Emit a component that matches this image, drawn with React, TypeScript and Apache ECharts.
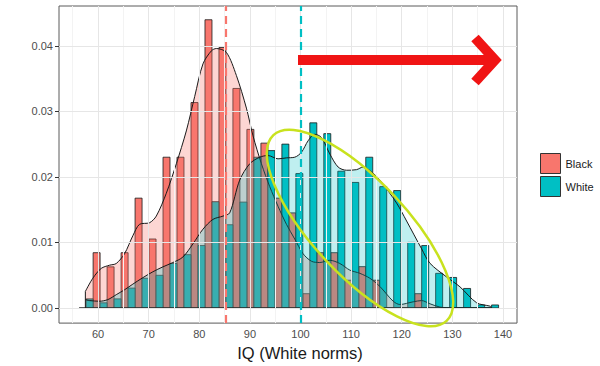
import React, { useEffect, useRef } from "react";
import * as echarts from "echarts";

// ---- data ----
const groups = ["Black", "White"];
const groupColors = ["#F8766D", "#00BFC4"];

const binCenters = [
  57.65, 60.41, 63.17, 65.94, 68.7, 71.46, 74.22, 76.98, 79.75, 82.51,
  85.27, 88.03, 90.79, 93.56, 96.32, 99.08, 101.84, 104.6, 107.37, 110.13,
  112.89, 115.65, 118.41, 121.18, 123.94, 126.7, 129.46, 132.22, 134.99, 137.75,
];
const binWidth = 2.762;

const blackBars = [
  0, 0.00843, 0.00627, 0.00843, 0.01676, 0.01052, 0.02301, 0.02301, 0.03136, 0.044,
  0.03976, 0.03351, 0.02726, 0.02516, 0.01676, 0.01451, 0.00217, 0.00843, 0.00843, 0.00423,
  0.0063, 0.00423, 0, 0, 0.00217, 0, 0, 0, 0, 0,
];
const whiteBars = [
  0.00138, 0.00078, 0.00138, 0.00303, 0.00453, 0.00498, 0.00678, 0.00813, 0.00952, 0.01622,
  0.0127, 0.01616, 0.02301, 0.02402, 0.02501, 0.02051, 0.02826, 0.02661, 0.02087, 0.01916,
  0.02301, 0.01852, 0.01792, 0.01001, 0.00952, 0.00528, 0.00465, 0.00297, 0.00045, 0.00045,
];

const blackDensX = [
  57.5, 58.97, 60.63, 62.27, 63.6, 65.24, 66.88, 68.21, 70.19, 71.51, 73.49, 75.47, 77.44,
  79.09, 80.73, 82.39, 83.38, 85.36, 87.33, 89.31, 90.62, 92.28, 93.92, 95.56, 97.22, 98.86,
  100.5, 102.17, 103.81, 105.79, 107.77, 109.75, 111.72, 113.7, 115.68, 118.31, 119.63,
  122.26, 123.92, 125.57, 127.55, 128.87, 133.0, 137.75,
];
const blackDensY = [
  0.00252, 0.00453, 0.00603, 0.00652, 0.00678, 0.00828, 0.01102, 0.01277, 0.01301, 0.01402,
  0.01751, 0.02201, 0.02702, 0.03226, 0.03726, 0.03925, 0.03961, 0.03901, 0.0355, 0.03051,
  0.02627, 0.02201, 0.01852, 0.01552, 0.01277, 0.01052, 0.00828, 0.00712, 0.00693, 0.00727,
  0.00678, 0.00577, 0.00528, 0.00453, 0.00327, 0.00102, 0.00052, 0.00093, 0.00112, 0.00063,
  0.00012, 0.00003, 0, 0,
];

const whiteDensX = [
  57.5, 58.32, 60.3, 61.94, 63.6, 65.24, 66.88, 68.86, 70.84, 72.82, 74.79, 76.77, 78.75,
  80.73, 82.71, 84.68, 86.01, 87.99, 89.97, 91.94, 93.58, 95.56, 97.22, 98.86, 100.19, 101.5,
  102.82, 104.15, 105.79, 107.43, 109.09, 111.07, 112.37, 114.04, 115.68, 118.98, 120.96,
  123.92, 125.57, 128.87, 131.5, 134.8, 137.43, 137.75,
];
const whiteDensY = [
  0.00127, 0.00112, 0.00102, 0.00127, 0.00202, 0.00277, 0.00363, 0.00462, 0.00552, 0.00627,
  0.00693, 0.00777, 0.00978, 0.01202, 0.01352, 0.01402, 0.01451, 0.01952, 0.02201, 0.02301,
  0.02327, 0.02276, 0.02291, 0.02301, 0.02376, 0.02552, 0.02651, 0.02601, 0.02351, 0.02151,
  0.02102, 0.02111, 0.02151, 0.02076, 0.01952, 0.01601, 0.01327, 0.00903, 0.00682, 0.00472,
  0.00322, 0.00078, 0.00027, 0.0001,
];

const xTicks = [60, 70, 80, 90, 100, 110, 120, 130, 140];
const xMinor = [55, 65, 75, 85, 95, 105, 115, 125, 135];
const yTicks = [0, 0.01, 0.02, 0.03, 0.04];
const yMinor = [0.005, 0.015, 0.025, 0.035, 0.045];
const groupMeans = [85.3, 100];
const xTitle = "IQ (White norms)";

const FONT = "'Liberation Sans', Arial, Helvetica, sans-serif";

export default function App() {
  const ref = useRef<HTMLDivElement>(null);

  useEffect(() => {
    if (!ref.current) return;
    const chart = echarts.init(ref.current, null, { renderer: "svg" });

    const barData = (vals: number[], side: number) =>
      binCenters.map((c, i) =>
        side === 0 ? [c - binWidth / 2, c, vals[i]] : [c, c + binWidth / 2, vals[i]]
      );

    const barSeries = (idx: number, vals: number[]) => ({
      name: groups[idx],
      type: "custom",
      z: 2,
      itemStyle: { color: groupColors[idx] },
      encode: { x: [0, 1], y: 2 },
      data: barData(vals, idx),
      renderItem: (params: any, api: any) => {
        const x0 = api.value(0);
        const x1 = api.value(1);
        const y = api.value(2);
        const p0 = api.coord([x0, y]);
        const p1 = api.coord([x1, 0]);
        return {
          type: "rect",
          shape: { x: p0[0], y: p0[1], width: p1[0] - p0[0], height: p1[1] - p0[1] },
          style: { fill: groupColors[idx], stroke: "#1a1a1a", lineWidth: 0.8 },
        };
      },
    });

    const densSeries = (xs: number[], ys: number[], fill: string, z: number) => ({
      type: "line",
      z,
      smooth: 0.3,
      showSymbol: false,
      silent: true,
      lineStyle: { color: "#1a1a1a", width: 1 },
      areaStyle: { color: fill, opacity: 1 },
      data: xs.map((x, i) => [x, ys[i]]),
    });

    const gridLine = (axis: "xAxis" | "yAxis", v: number, color: string) => ({
      [axis]: v,
      lineStyle: { color, width: 1, type: "solid" },
    });

    const option: any = {
      animation: false,
      backgroundColor: "#ffffff",
      textStyle: { fontFamily: FONT },
      grid: {
        left: 59,
        right: 83,
        top: 6,
        bottom: 37,
        show: true,
        backgroundColor: "#ffffff",
        borderColor: "#5a5a5a",
        borderWidth: 1,
      },
      legend: {
        data: groups,
        orient: "vertical",
        left: 540,
        top: 153,
        padding: 0,
        itemGap: 2,
        itemWidth: 20,
        itemHeight: 20,
        icon: "rect",
        itemStyle: { borderColor: "#333333", borderWidth: 1 },
        textStyle: { fontSize: 11, color: "#1a1a1a", fontFamily: FONT },
        selectedMode: false,
      },
      xAxis: {
        type: "value",
        min: 52.29,
        max: 142.77,
        name: xTitle,
        nameLocation: "middle",
        nameGap: 14,
        nameTextStyle: {
          fontSize: 16.5,
          color: "#1a1a1a",
          fontFamily: FONT,
          padding: [0, 0, 0, 24],
        },
        axisLine: { show: false },
        axisTick: {
          show: true,
          customValues: xTicks,
          length: 4,
          lineStyle: { color: "#333333" },
        },
        axisLabel: {
          show: true,
          customValues: xTicks,
          margin: 5,
          fontSize: 11,
          color: "#4d4d4d",
          fontFamily: FONT,
        },
        splitLine: { show: false },
      },
      yAxis: {
        type: "value",
        min: -0.00232,
        max: 0.0461,
        axisLine: { show: false },
        axisTick: {
          show: true,
          customValues: yTicks,
          length: 4,
          lineStyle: { color: "#333333" },
        },
        axisLabel: {
          show: true,
          customValues: yTicks,
          margin: 6,
          fontSize: 11,
          color: "#4d4d4d",
          fontFamily: FONT,
          formatter: (v: number) => v.toFixed(2),
        },
        splitLine: { show: false },
      },
      series: [
        {
          type: "line",
          z: 1,
          silent: true,
          showSymbol: false,
          lineStyle: { width: 0, opacity: 0 },
          data: [[xTicks[0], 0]],
          markLine: {
            silent: true,
            symbol: ["none", "none"],
            label: { show: false },
            emphasis: { disabled: true },
            data: [
              ...xMinor.map((v) => gridLine("xAxis", v, "#F3F3F3")),
              ...yMinor.map((v) => gridLine("yAxis", v, "#F3F3F3")),
              ...xTicks.map((v) => gridLine("xAxis", v, "#E6E6E6")),
              ...yTicks.map((v) => gridLine("yAxis", v, "#E6E6E6")),
            ],
          },
        },
        barSeries(0, blackBars),
        barSeries(1, whiteBars),
        densSeries(blackDensX, blackDensY, "rgba(248,118,109,0.3)", 3),
        densSeries(whiteDensX, whiteDensY, "rgba(0,191,196,0.25)", 4),
        {
          type: "line",
          z: 4,
          silent: true,
          showSymbol: false,
          lineStyle: { color: "#1a1a1a", width: 1 },
          data: [
            [blackDensX[0], blackDensY[0]],
            [blackDensX[0], 0],
            [blackDensX[blackDensX.length - 1], 0],
          ],
        },
        {
          type: "line",
          z: 6,
          silent: true,
          showSymbol: false,
          lineStyle: { width: 0, opacity: 0 },
          data: [[xTicks[0], 0]],
          markLine: {
            silent: true,
            symbol: ["none", "none"],
            label: { show: false },
            emphasis: { disabled: true },
            data: groupMeans.map((m, i) => ({
              xAxis: m,
              lineStyle: { color: groupColors[i], width: 2.2, type: [8, 5] },
            })),
          },
        },
      ],
      graphic: [
        {
          type: "ellipse",
          x: 360,
          y: 228,
          rotation: (-47 * Math.PI) / 180,
          shape: { cx: 0, cy: 0, rx: 127, ry: 47 },
          style: { fill: "none", stroke: "#C8E21E", lineWidth: 2.5 },
          z: 100,
        },
        {
          type: "line",
          shape: { x1: 298, y1: 60, x2: 496, y2: 60 },
          style: { stroke: "#F01414", lineWidth: 10 },
          z: 100,
        },
        {
          type: "polyline",
          shape: { points: [[475, 38], [495, 60], [475, 82]] },
          style: { stroke: "#F01414", lineWidth: 10, fill: "none", lineJoin: "miter" },
          z: 100,
        },
      ],
    };

    chart.setOption(option);
    return () => chart.dispose();
  }, []);

  return (
    <div
      ref={ref}
      style={{ position: "absolute", left: 0, top: 0, width: 600, height: 366 }}
    />
  );
}
